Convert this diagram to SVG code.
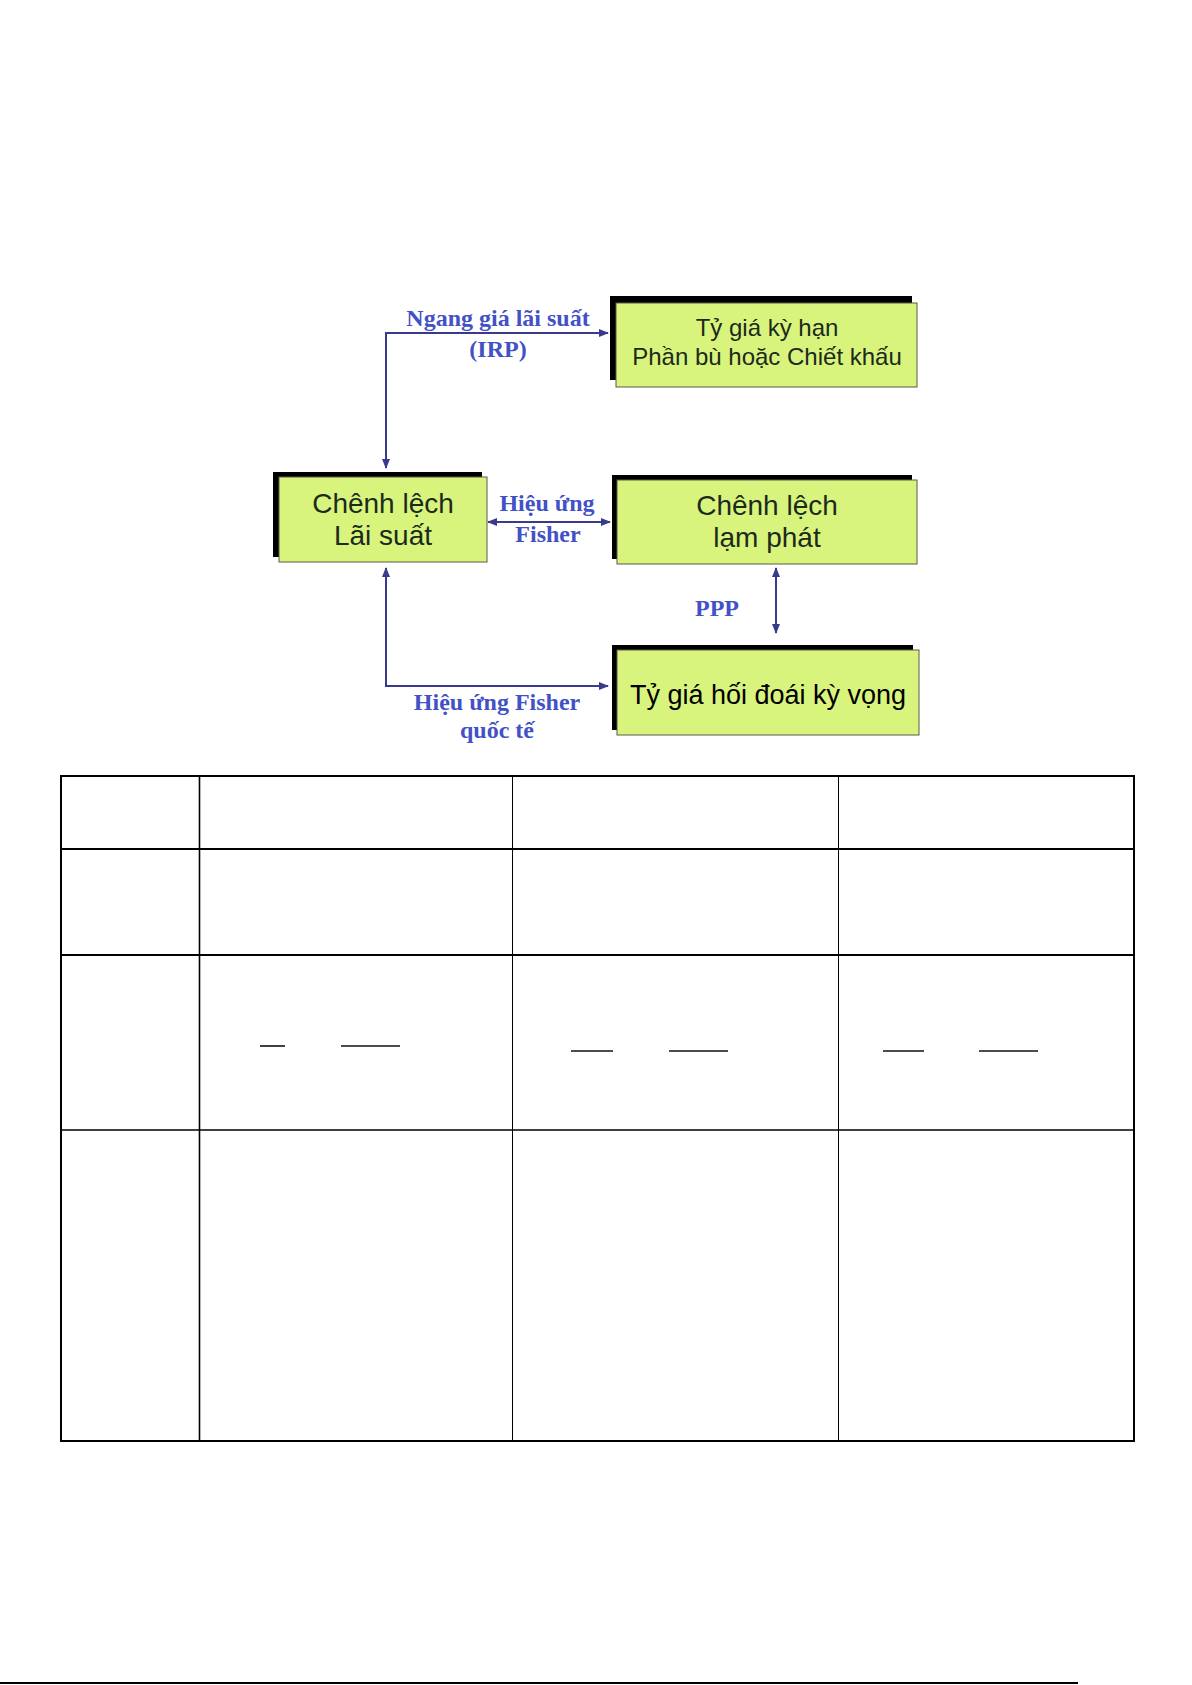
<svg xmlns="http://www.w3.org/2000/svg" width="1192" height="1685" viewBox="0 0 1192 1685">
<style>
.shadow{fill:#000}
.box{fill:#d9f47c;stroke:#5a5a4a;stroke-width:1}
.bt{font-family:"Liberation Sans",Arial,sans-serif;font-size:24px;fill:#1c2a1c;text-anchor:middle}
.lbl{font-family:"Liberation Serif","Times New Roman",serif;font-weight:bold;font-size:24px;fill:#4251c6;text-anchor:middle}
.con{fill:none;stroke:#3a3a8c;stroke-width:2}
.tl{stroke:#000;fill:none}
</style>
<defs>
<marker id="ah" markerWidth="10" markerHeight="8" refX="9" refY="4" orient="auto-start-reverse" markerUnits="userSpaceOnUse">
<path d="M0,0 L10,4 L0,8 Z" fill="#3a3a8c"/>
</marker>
</defs>
<rect width="1192" height="1685" fill="#fff"/>

<g id="connectors">
<path class="con" d="M386,468 L386,333 L608,333" marker-start="url(#ah)" marker-end="url(#ah)"/>
<path class="con" d="M488,522 L610,522" marker-start="url(#ah)" marker-end="url(#ah)"/>
<path class="con" d="M386,568 L386,686 L608,686" marker-start="url(#ah)" marker-end="url(#ah)"/>
<path class="con" d="M776,568 L776,633" marker-start="url(#ah)" marker-end="url(#ah)"/>
<text class="lbl" x="498" y="326">Ngang giá lãi suất</text>
<text class="lbl" x="498" y="357">(IRP)</text>
<text class="lbl" x="547" y="511">Hiệu ứng</text>
<text class="lbl" x="548" y="542">Fisher</text>
<text class="lbl" x="717" y="616">PPP</text>
<text class="lbl" x="497" y="710">Hiệu ứng Fisher</text>
<text class="lbl" x="497" y="738">quốc tế</text>
</g>

<g id="node-ty-gia-ky-han">
<rect class="shadow" x="610" y="296" width="302" height="84"/>
<rect class="box" x="616" y="303" width="301" height="84"/>
<text class="bt" x="767" y="336">Tỷ giá kỳ hạn</text>
<text class="bt" x="767" y="365">Phần bù hoặc Chiết khấu</text>
</g>

<g id="node-chenh-lech-lai-suat">
<rect class="shadow" x="273" y="472" width="209" height="85"/>
<rect class="box" x="279" y="477" width="208" height="85"/>
<text class="bt" x="383" y="513" style="font-size:28px">Chênh lệch</text>
<text class="bt" x="383" y="545" style="font-size:28px">Lãi suất</text>
</g>

<g id="node-chenh-lech-lam-phat">
<rect class="shadow" x="612" y="475" width="300" height="84"/>
<rect class="box" x="617" y="480" width="300" height="84"/>
<text class="bt" x="767" y="515" style="font-size:28px">Chênh lệch</text>
<text class="bt" x="767" y="547" style="font-size:28px">lạm phát</text>
</g>

<g id="node-ty-gia-hoi-doai-ky-vong">
<rect class="shadow" x="612" y="645" width="301" height="85"/>
<rect class="box" x="617" y="650" width="302" height="85"/>
<text class="bt" x="768" y="704" style="font-size:27px;fill:#000">Tỷ giá hối đoái kỳ vọng</text>
</g>

<g id="table">
<rect class="tl" x="61" y="776" width="1073" height="665" stroke-width="2"/>
<line class="tl" x1="61" y1="849" x2="1134" y2="849" stroke-width="2"/>
<line class="tl" x1="61" y1="955" x2="1134" y2="955" stroke-width="2"/>
<line class="tl" x1="61" y1="1130" x2="1134" y2="1130" stroke-width="1.5"/>
<line class="tl" x1="199.5" y1="776" x2="199.5" y2="1441" stroke-width="1.6"/>
<line class="tl" x1="512.5" y1="776" x2="512.5" y2="1441" stroke-width="1"/>
<line class="tl" x1="838.5" y1="776" x2="838.5" y2="1441" stroke-width="1"/>
<g stroke="#111" stroke-width="1.6">
<line x1="260" y1="1046" x2="285" y2="1046"/>
<line x1="341" y1="1046" x2="400" y2="1046"/>
<line x1="571" y1="1051" x2="613" y2="1051"/>
<line x1="669" y1="1051" x2="728" y2="1051"/>
<line x1="883" y1="1051" x2="924" y2="1051"/>
<line x1="979" y1="1051" x2="1038" y2="1051"/>
</g>
</g>
<line x1="0" y1="1683" x2="1078" y2="1683" stroke="#000" stroke-width="2"/>
</svg>
